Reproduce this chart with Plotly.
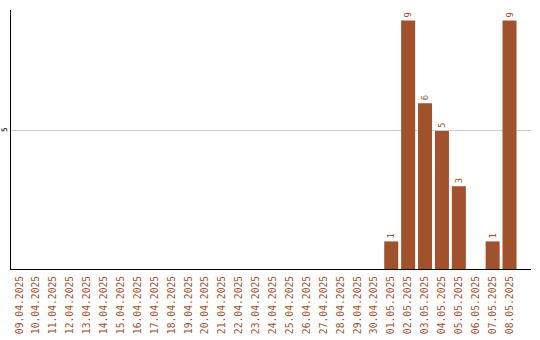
import plotly.graph_objects as go

dates = ["09.04.2025", "10.04.2025", "11.04.2025", "12.04.2025", "13.04.2025",
         "14.04.2025", "15.04.2025", "16.04.2025", "17.04.2025", "18.04.2025",
         "19.04.2025", "20.04.2025", "21.04.2025", "22.04.2025", "23.04.2025",
         "24.04.2025", "25.04.2025", "26.04.2025", "27.04.2025", "28.04.2025",
         "29.04.2025", "30.04.2025", "01.05.2025", "02.05.2025", "03.05.2025",
         "04.05.2025", "05.05.2025", "06.05.2025", "07.05.2025", "08.05.2025"]
values = [0, 0, 0, 0, 0, 0, 0, 0, 0, 0,
          0, 0, 0, 0, 0, 0, 0, 0, 0, 0,
          0, 0, 1, 9, 6, 5, 3, 0, 1, 9]
y_ticks = [5]

bar_color = "#A0522D"
font_family = "DejaVu Sans Mono"

fig = go.Figure(go.Bar(
    x=dates, y=values,
    marker=dict(color=bar_color, line=dict(width=0)),
    text=[str(v) if v else "" for v in values],
    textposition="outside", textangle=-90,
    textfont=dict(family=font_family, size=9, color=bar_color),
    cliponaxis=False,
))

fig.update_layout(
    width=540, height=340,
    margin=dict(l=11, r=9, t=10, b=71),
    paper_bgcolor="white", plot_bgcolor="white",
    bargap=0.17, showlegend=False,
    font=dict(family=font_family, size=9),
)
fig.update_xaxes(
    type="category", range=[-0.5, 30.27], automargin=False,
    showline=True, linecolor="black", linewidth=1,
    showgrid=False, ticks="", tickangle=-90,
    tickfont=dict(family=font_family, size=9.7, color=bar_color),
    ticklabelstandoff=2,
)
fig.update_yaxes(
    range=[0, 9.38], tickvals=y_ticks, automargin=False,
    showline=True, linecolor="black", linewidth=1,
    showgrid=True, gridcolor="#cccccc", gridwidth=1,
    zeroline=False, ticks="", tickangle=-90,
    tickfont=dict(family=font_family, size=7.5, color="black"),
    ticklabelstandoff=0,
)

fig.write_html("out.html")
